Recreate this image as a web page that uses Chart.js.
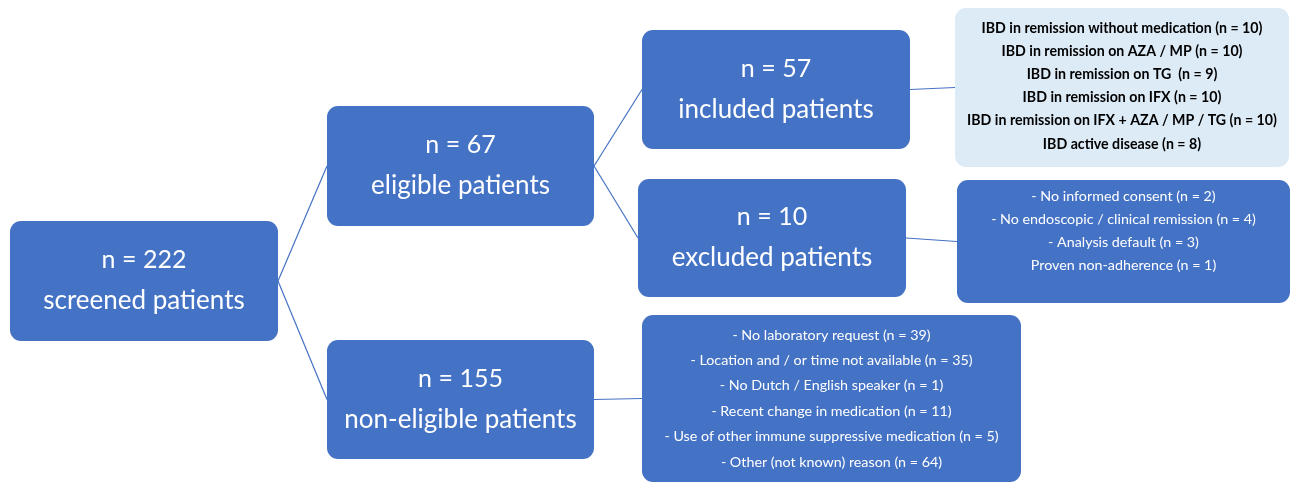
<!DOCTYPE html>
<html>
<head>
<meta charset="utf-8">
<script src="https://cdn.jsdelivr.net/npm/chart.js@4.4.1/dist/chart.umd.min.js"></script>
<style>
  html, body { margin: 0; padding: 0; background: #fff; }
  #wrap { width: 1295px; height: 483px; }
</style>
</head>
<body>
<div id="wrap"><canvas id="flow" width="1295" height="483"></canvas></div>
<script>
// patient counts and group names, in flow order
const counts = [222, 67, 155, 57, 10];
const groupNames = ["screened patients", "eligible patients", "non-eligible patients", "included patients", "excluded patients"];

const includedDetails = [
  "IBD in remission without medication (n = 10)",
  "IBD in remission on AZA / MP (n = 10)",
  "IBD in remission on TG  (n = 9)",
  "IBD in remission on IFX (n = 10)",
  "IBD in remission on IFX + AZA / MP / TG (n = 10)",
  "IBD active disease (n = 8)"
];
const excludedDetails = [
  "- No informed consent (n = 2)",
  "- No endoscopic / clinical remission (n = 4)",
  "- Analysis default (n = 3)",
  "Proven non-adherence (n = 1)"
];
const nonEligibleDetails = [
  "- No laboratory request (n = 39)",
  "- Location and / or time not available (n = 35)",
  "- No Dutch / English speaker (n = 1)",
  "- Recent change in medication (n = 11)",
  "- Use of other immune suppressive medication (n = 5)",
  "- Other (not known) reason (n = 64)"
];

// layout in scale units (x 0..1295, y 0..483)
const boxes = [
  { x0: 10,  y0: 221, x1: 278,  y1: 341 },  // screened
  { x0: 327, y0: 106, x1: 594,  y1: 226 },  // eligible
  { x0: 327, y0: 340, x1: 594,  y1: 459 },  // non-eligible
  { x0: 642, y0: 30,  x1: 910,  y1: 149 },  // included
  { x0: 638, y0: 179, x1: 906,  y1: 297 }   // excluded
];
const detailBoxes = [
  { x0: 955, y0: 8,   x1: 1289, y1: 167, lines: includedDetails, first: 28, step: 23.2, light: true },
  { x0: 957, y0: 180, x1: 1290, y1: 303, lines: excludedDetails, first: 196, step: 23.1, light: false },
  { x0: 642, y0: 315, x1: 1021, y1: 482, lines: nonEligibleDetails, first: 335, step: 25.4, light: false }
];
// [from, to] edges: box index or "d" + detail index
const links = [
  [0, 1], [0, 2], [1, 3], [1, 4], [3, "d0"], [4, "d1"], [2, "d2"]
];

const blue = "#4472C4";

function rectOf(ref) {
  if (typeof ref === "string") return detailBoxes[+ref.slice(1)];
  return boxes[ref];
}

const linkSets = links.map(function (l) {
  const a = rectOf(l[0]), b = rectOf(l[1]);
  return {
    data: [
      { x: a.x1, y: (a.y0 + a.y1) / 2 },
      { x: b.x0, y: (b.y0 + b.y1) / 2 }
    ],
    showLine: true,
    borderColor: blue,
    borderWidth: 1.2,
    pointRadius: 0
  };
});

function roundRect(ctx, x, y, w, h, r) {
  ctx.beginPath();
  ctx.moveTo(x + r, y);
  ctx.arcTo(x + w, y, x + w, y + h, r);
  ctx.arcTo(x + w, y + h, x, y + h, r);
  ctx.arcTo(x, y + h, x, y, r);
  ctx.arcTo(x, y, x + w, y, r);
  ctx.closePath();
}

const boxPlugin = {
  id: "boxes",
  afterDatasetsDraw: function (chart) {
    const ctx = chart.ctx;
    const sx = chart.scales.x, sy = chart.scales.y;
    ctx.save();
    ctx.textAlign = "center";
    ctx.textBaseline = "middle";

    boxes.forEach(function (b, i) {
      const x0 = sx.getPixelForValue(b.x0), x1 = sx.getPixelForValue(b.x1);
      const y0 = sy.getPixelForValue(b.y0), y1 = sy.getPixelForValue(b.y1);
      roundRect(ctx, x0, y0, x1 - x0, y1 - y0, 11);
      ctx.fillStyle = blue;
      ctx.fill();
      const cx = (x0 + x1) / 2, cy = (y0 + y1) / 2;
      ctx.fillStyle = "#ffffff";
      ctx.font = "25px Lato";
      ctx.fillText("n = " + counts[i], cx, cy - 21);
      ctx.font = "26px Lato";
      ctx.fillText(groupNames[i], cx, cy + 20);
    });

    detailBoxes.forEach(function (d) {
      const x0 = sx.getPixelForValue(d.x0), x1 = sx.getPixelForValue(d.x1);
      const y0 = sy.getPixelForValue(d.y0), y1 = sy.getPixelForValue(d.y1);
      roundRect(ctx, x0, y0, x1 - x0, y1 - y0, 11);
      ctx.fillStyle = d.light ? "#DDEBF7" : blue;
      ctx.fill();
      ctx.fillStyle = d.light ? "#000000" : "#ffffff";
      ctx.font = d.light ? "bold 14.2px Lato" : "14.3px Lato";
      const cx = (x0 + x1) / 2;
      d.lines.forEach(function (t, k) {
        ctx.fillText(t, cx, sy.getPixelForValue(d.first + k * d.step));
      });
    });
    ctx.restore();
  }
};

new Chart(document.getElementById("flow").getContext("2d"), {
  type: "scatter",
  data: { datasets: linkSets },
  options: {
    responsive: false,
    animation: false,
    layout: { padding: 0 },
    plugins: { legend: { display: false }, tooltip: { enabled: false } },
    scales: {
      x: { type: "linear", min: 0, max: 1295, display: false },
      y: { type: "linear", min: 0, max: 483, reverse: true, display: false }
    }
  },
  plugins: [boxPlugin]
});
</script>
</body>
</html>
